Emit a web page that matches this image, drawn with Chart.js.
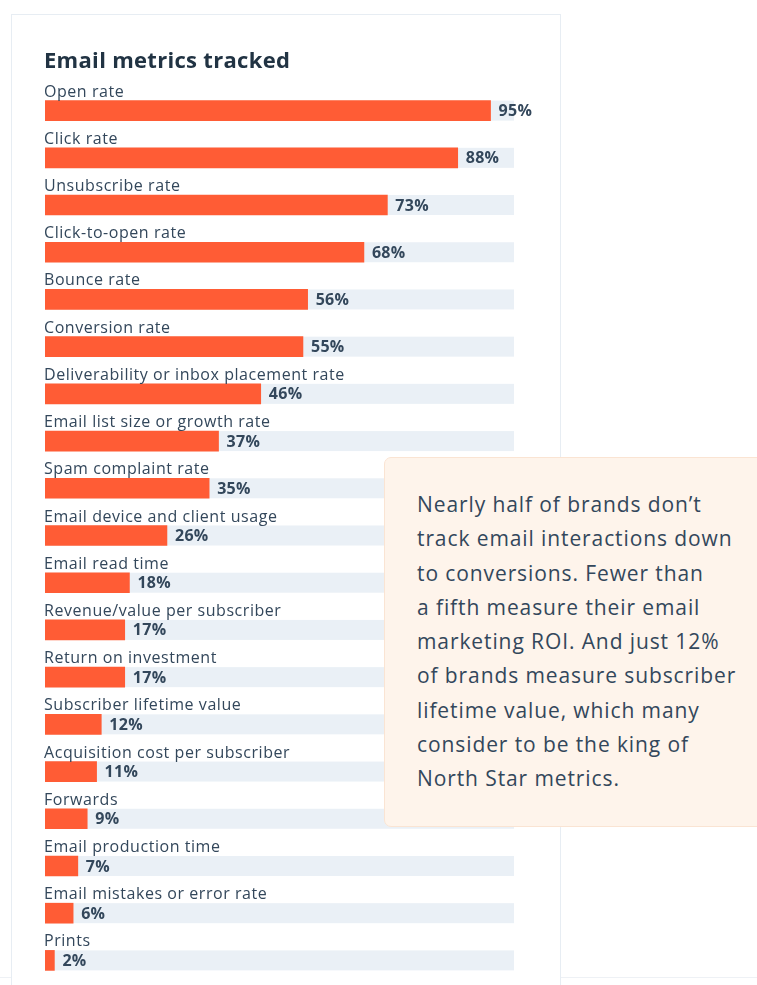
<!DOCTYPE html>
<html>
<head>
<meta charset="utf-8">
<script src="https://cdn.jsdelivr.net/npm/chart.js@4/dist/chart.umd.min.js"></script>
<style>
  body { margin:0; width:757px; height:985px; overflow:hidden; background:#fff; position:relative; font-family:"Open Sans", sans-serif; }
  #rule { position:absolute; left:0; right:0; top:977px; border-top:1px solid #eef1f5; }
  #card { position:absolute; left:11px; top:14px; width:548px; height:1000px; background:#fff; border:1.5px solid #e7edf3; }
  #chart { position:absolute; left:0; top:0; }
  #note { position:absolute; left:384px; top:457px; width:390px; height:370px; box-sizing:border-box;
          background:#fef4eb; border:1px solid #fae4d3; border-radius:7px;
          padding:29px 0 0 32px; font-size:21px; line-height:34.3px; letter-spacing:0.9px; color:#33475b; }
</style>
</head>
<body>
<div id="rule"></div>
<div id="card"></div>
<canvas id="chart" width="757" height="985"></canvas>
<div id="note">Nearly half of brands don’t<br>track email interactions down<br>to conversions. Fewer than<br>a fifth measure their email<br>marketing ROI. And just 12%<br>of brands measure subscriber<br>lifetime value, which many<br>consider to be the king of<br>North Star metrics.</div>

<script>
const chartTitle = "Email metrics tracked";
const metrics = [
  "Open rate", "Click rate", "Unsubscribe rate", "Click-to-open rate", "Bounce rate",
  "Conversion rate", "Deliverability or inbox placement rate", "Email list size or growth rate",
  "Spam complaint rate", "Email device and client usage", "Email read time",
  "Revenue/value per subscriber", "Return on investment", "Subscriber lifetime value",
  "Acquisition cost per subscriber", "Forwards", "Email production time",
  "Email mistakes or error rate", "Prints"
];
const shares = [95, 88, 73, 68, 56, 55, 46, 37, 35, 26, 18, 17, 17, 12, 11, 9, 7, 6, 2];
const scaleMax = 100;

const ink = "#33475b";
const orange = "#ff5c35";
const track = "#eaf0f6";

// grey track behind each bar, labels above, percentage after the bar end
const rowText = {
  id: "rowText",
  beforeDatasetsDraw(chart) {
    const c = chart.ctx, x = chart.scales.x;
    const x0 = x.getPixelForValue(0), x1 = x.getPixelForValue(scaleMax);
    c.save();
    c.fillStyle = track;
    chart.getDatasetMeta(0).data.forEach(bar => {
      c.fillRect(x0, bar.y - bar.height / 2, x1 - x0, bar.height);
    });
    c.restore();
  },
  afterDatasetsDraw(chart) {
    const c = chart.ctx, x = chart.scales.x;
    const x0 = x.getPixelForValue(0);
    c.save();
    c.fillStyle = "#213343";
    c.font = "bold 22px 'Open Sans'";
    c.letterSpacing = "0.3px";
    c.textBaseline = "alphabetic";
    c.fillText(chartTitle, x0 - 1, 68);
    chart.getDatasetMeta(0).data.forEach((bar, i) => {
      c.fillStyle = ink;
      c.font = "16px 'Open Sans'";
      c.letterSpacing = "0.55px";
      c.textBaseline = "alphabetic";
      c.textAlign = "left";
      c.fillText(metrics[i], x0 - 1, bar.y - bar.height / 2 - 4);
      c.font = "bold 16px 'Open Sans'";
      c.letterSpacing = "0.3px";
      c.textBaseline = "middle";
      c.fillText(shares[i] + "%", bar.x + 8, bar.y + 1);
    });
    c.restore();
  }
};

new Chart(document.getElementById("chart"), {
  type: "bar",
  data: {
    labels: metrics,
    datasets: [{ data: shares, backgroundColor: orange, borderWidth: 0, barThickness: 20 }]
  },
  options: {
    indexAxis: "y",
    responsive: false,
    animation: false,
    layout: { padding: { left: 45, right: 243, top: 87, bottom: 1 } },
    scales: {
      x: { display: false, min: 0, max: scaleMax },
      y: { display: false }
    },
    plugins: { legend: { display: false }, tooltip: { enabled: false } }
  },
  plugins: [rowText]
});
</script>
</body>
</html>
